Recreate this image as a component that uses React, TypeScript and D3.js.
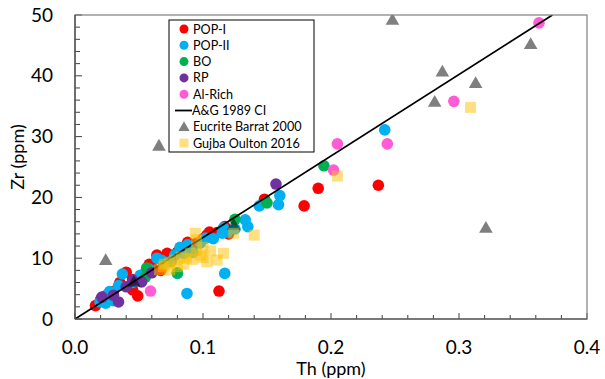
import React from 'react';
import * as d3 from 'd3';

// Th (ppm) / Zr (ppm) pairs
const popI: [number, number][] = [
  [0.016, 2.2], [0.02, 3.2], [0.024, 3.8], [0.03, 4.5], [0.035, 6.0], [0.04, 7.7],
  [0.045, 4.8], [0.049, 3.8], [0.045, 6.5], [0.055, 7.5], [0.06, 8.5], [0.064, 10.5],
  [0.07, 10.0], [0.08, 11.0], [0.085, 11.5], [0.09, 12.0], [0.095, 12.5], [0.1, 13.2],
  [0.103, 13.8], [0.111, 14.2], [0.115, 14.5], [0.12, 14.0], [0.075, 9.5], [0.067, 8.0],
  [0.058, 9.0], [0.072, 10.8], [0.088, 12.6], [0.105, 14.3], [0.117, 15.2],
  [0.1125, 4.6], [0.148, 19.7], [0.179, 18.6], [0.19, 21.5], [0.237, 22.0],
];
const popII: [number, number][] = [
  [0.0195, 2.8], [0.027, 4.5], [0.024, 2.6], [0.03, 3.0], [0.037, 7.4], [0.034, 5.5],
  [0.051, 7.2], [0.064, 10.0], [0.078, 10.5], [0.082, 11.8], [0.088, 12.2], [0.098, 12.5],
  [0.102, 13.3], [0.08, 7.5], [0.119, 14.3], [0.116, 15.0], [0.115, 14.1], [0.133, 16.3],
  [0.045, 6.0], [0.058, 8.2], [0.068, 9.6], [0.075, 9.5], [0.085, 10.8], [0.108, 13.2],
  [0.125, 14.8],
  [0.135, 15.2], [0.144, 18.6], [0.159, 18.8], [0.16, 20.3], [0.242, 31.1], [0.117, 7.5],
  [0.0875, 4.2], [0.07, 9.2], [0.092, 11.0],
];
const bo: [number, number][] = [
  [0.055, 6.9], [0.08, 7.6], [0.056, 8.4], [0.125, 16.4], [0.15, 19.1], [0.1945, 25.2],
];
const rp: [number, number][] = [
  [0.021, 3.6], [0.03, 3.9], [0.034, 2.8], [0.04, 5.3], [0.045, 6.4], [0.052, 6.1],
  [0.06, 7.6], [0.157, 22.2],
];
const alRich: [number, number][] = [
  [0.059, 4.6], [0.202, 24.5], [0.205, 28.8], [0.244, 28.8], [0.296, 35.8], [0.3625, 48.7],
];
const barrat: [number, number][] = [
  [0.024, 9.7], [0.046, 6.1], [0.0656, 28.5], [0.124, 15.5], [0.248, 49.2], [0.281, 35.7],
  [0.287, 40.7], [0.313, 38.8], [0.321, 15.0], [0.356, 45.2],
];
const gujba: [number, number][] = [
  [0.066, 8.1], [0.069, 8.6], [0.074, 9.2], [0.074, 8.1], [0.078, 9.7], [0.08, 8.6],
  [0.083, 10.2], [0.087, 10.0], [0.09, 10.8], [0.094, 14.1], [0.095, 11.3], [0.095, 13.0],
  [0.098, 10.5], [0.1, 11.8], [0.103, 9.4], [0.111, 9.7], [0.116, 10.8], [0.124, 14.1],
  [0.085, 9.0], [0.092, 9.8], [0.1, 10.1], [0.106, 11.2], [0.07, 9.0],
  [0.14, 13.8], [0.205, 23.5], [0.309, 34.8],
];
// A&G 1989 CI line
const agLine: [number, number][] = [[0, 0], [0.373, 50]];

const xTicks = [0, 0.1, 0.2, 0.3, 0.4];
const yTicks = [0, 10, 20, 30, 40, 50];

const legendItems = [
  { label: 'POP-I', kind: 'circle', color: '#FF0000' },
  { label: 'POP-II', kind: 'circle', color: '#00B0F0' },
  { label: 'BO', kind: 'circle', color: '#00B050' },
  { label: 'RP', kind: 'circle', color: '#7030A0' },
  { label: 'Al-Rich', kind: 'circle', color: '#FF5CD6' },
  { label: 'A&G 1989 CI', kind: 'line', color: '#000000' },
  { label: 'Eucrite Barrat 2000', kind: 'tri', color: '#7F7F7F' },
  { label: 'Gujba Oulton 2016', kind: 'sq', color: '#FFC000' },
];

const W = 605;
const H = 379;
const M = { left: 75, right: 18, top: 15, bottom: 60 };
const FONT = 'Lato, "Open Sans", sans-serif';

export default function App() {
  const iw = W - M.left - M.right;
  const ih = H - M.top - M.bottom;
  const x = d3.scaleLinear().domain([0, 0.4]).range([0, iw]);
  const y = d3.scaleLinear().domain([0, 50]).range([ih, 0]);
  const line = d3.line<[number, number]>().x(d => x(d[0])).y(d => y(d[1]));
  const tri = d3.symbol().type(d3.symbolTriangle).size(80)() as string;
  const r = 5.8;

  const circles = (data: [number, number][], color: string, key: string) =>
    data.map((d, i) => (
      <circle key={key + i} cx={x(d[0])} cy={y(d[1])} r={r} fill={color} />
    ));

  const xMinor = d3.range(0, 0.4001, 0.02);
  const yMinor = d3.range(0, 50.001, 2);

  return (
    <div style={{ position: 'absolute', left: 0, top: 0 }}>
      <svg width={W} height={H} style={{ display: 'block', background: '#fff' }}>
        <defs>
          <clipPath id="plot-clip">
            <rect x={0} y={0} width={iw} height={ih} />
          </clipPath>
        </defs>
        <g transform={`translate(${M.left},${M.top})`}>
          {/* ticks, pointing inward */}
          {xMinor.map((t, i) => (
            <line key={'xm' + i} x1={x(t)} x2={x(t)} y1={ih} y2={ih - (i % 5 === 0 ? 6 : 4)} stroke="#404040" strokeWidth={1} />
          ))}
          {yMinor.map((t, i) => (
            <line key={'ym' + i} x1={0} x2={i % 5 === 0 ? 7 : 5} y1={y(t)} y2={y(t)} stroke="#404040" strokeWidth={1} />
          ))}

          <g clipPath="url(#plot-clip)">
            {circles(popI, '#FF0000', 'p1')}
            {circles(popII, '#00B0F0', 'p2')}
            {circles(bo, '#00B050', 'bo')}
            {circles(rp, '#7030A0', 'rp')}
            {circles(alRich, '#FF5CD6', 'al')}
            <path d={line(agLine) || ''} fill="none" stroke="#000" strokeWidth={1.8} />
            {barrat.map((d, i) => (
              <path key={'tr' + i} d={tri} transform={`translate(${x(d[0])},${y(d[1]) + 1})`} fill="#7F7F7F" style={{ mixBlendMode: 'multiply' }} />
            ))}
            {gujba.map((d, i) => (
              <rect key={'gq' + i} x={x(d[0]) - 5.5} y={y(d[1]) - 5.5} width={11} height={11} fill="#FFC000" fillOpacity={0.5} />
            ))}
          </g>

          <rect x={0} y={0} width={iw} height={ih} fill="none" stroke="#7F7F7F" strokeWidth={1.2} />
          <line x1={0} x2={0} y1={0} y2={ih} stroke="#404040" strokeWidth={1.2} />
          <line x1={0} x2={iw} y1={ih} y2={ih} stroke="#404040" strokeWidth={1.2} />

          {xTicks.map(t => (
            <text key={'xt' + t} x={x(t)} y={ih + 35} textAnchor="middle" fontFamily={FONT} fontSize={19} fill="#000">
              {t.toFixed(1)}
            </text>
          ))}
          {yTicks.map(t => (
            <text key={'yt' + t} x={-22} y={y(t)} dy="0.35em" textAnchor="end" fontFamily={FONT} fontSize={19} fill="#000">
              {t}
            </text>
          ))}
          <text x={x(0.2)} y={ih + 56} textAnchor="middle" fontFamily={FONT} fontSize={18} fill="#000">Th (ppm)</text>
          <text transform={`translate(${-57},${ih / 2 - 10}) rotate(-90)`} dy="0.35em" textAnchor="middle" fontFamily={FONT} fontSize={18} fill="#000">Zr (ppm)</text>

          {/* legend */}
          <g transform="translate(94,5)">
            <rect x={0} y={0} width={145} height={132} fill="#fff" stroke="#000" strokeWidth={1} />
            {legendItems.map((it, i) => {
              const cy = 9 + i * 16.3;
              return (
                <g key={it.label} transform={`translate(0,${cy})`}>
                  {it.kind === 'circle' && <circle cx={15} cy={0} r={4.5} fill={it.color} />}
                  {it.kind === 'line' && <line x1={6} x2={23} y1={0} y2={0} stroke="#000" strokeWidth={1.8} />}
                  {it.kind === 'tri' && <path d={d3.symbol().type(d3.symbolTriangle).size(55)() as string} transform="translate(15,1)" fill={it.color} />}
                  {it.kind === 'sq' && <rect x={10.5} y={-4.5} width={9} height={9} fill={it.color} fillOpacity={0.5} />}
                  <text x={it.kind === 'line' ? 23 : 24} y={0} dy="0.36em" fontFamily={FONT} fontSize={12.6} fill="#000">{it.label}</text>
                </g>
              );
            })}
          </g>
        </g>
      </svg>
    </div>
  );
}
